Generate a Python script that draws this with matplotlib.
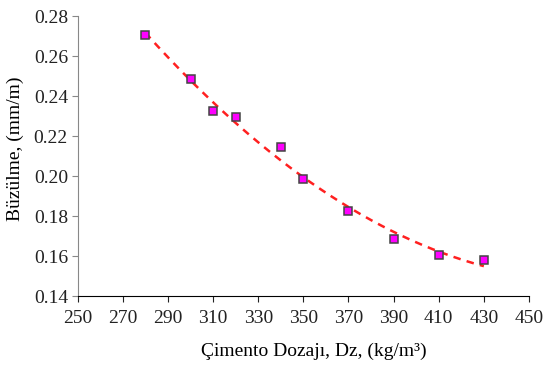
import numpy as np
import matplotlib
matplotlib.use("Agg")
import matplotlib.pyplot as plt

plt.rcParams['font.family'] = ['Liberation Serif', 'DejaVu Serif']

# Cement dosage (kg/m3) and measured shrinkage (mm/m)
dosage = [280, 300, 310, 320, 340, 350, 370, 390, 410, 430]
shrinkage = [0.2705, 0.2487, 0.2327, 0.2295, 0.2144, 0.1985, 0.1827, 0.1683, 0.1605, 0.1580]

x_ticks = [250, 270, 290, 310, 330, 350, 370, 390, 410, 430, 450]
y_ticks = [0.14, 0.16, 0.18, 0.20, 0.22, 0.24, 0.26, 0.28]

fig = plt.figure(figsize=(5.5, 3.65), dpi=100)
ax = fig.add_axes([0.1413, 0.189, 0.8205, 0.767])

# second-order trend line through the measurements
coef = np.polyfit(dosage, shrinkage, 2)
xs = np.linspace(min(dosage), max(dosage), 200)
ax.plot(xs, np.polyval(coef, xs), color='#ff2020', lw=1.8, ls=(0, (3, 2.5)), zorder=2)

ax.plot(dosage, shrinkage, ls='none', marker='s', ms=5.8, mfc='#ff00ff',
        mec='#444444', mew=1.1, zorder=3)

ax.set_xlim(250, 450)
ax.set_ylim(0.14, 0.28)
ax.set_xticks(x_ticks)
ax.set_yticks(y_ticks)
ax.set_yticklabels([f"{v:.2f}" for v in y_ticks])

for s in ['top', 'right']:
    ax.spines[s].set_visible(False)
ax.spines['left'].set_color('#888888')
ax.spines['bottom'].set_color('#000000')
ax.tick_params(axis='both', direction='out', length=4, labelsize=14, colors='#222222')
ax.tick_params(axis='y', color='#888888', pad=3)
ax.tick_params(axis='x', pad=6)

ax.set_xlabel('Çimento Dozajı, Dz, (kg/m³)', fontsize=14)
ax.set_ylabel('Büzülme, (mm/m)', fontsize=14)
ax.xaxis.set_label_coords(0.524, -0.168)
ax.yaxis.set_label_coords(-0.118, 0.525)

fig.savefig('out.png', dpi=100)
